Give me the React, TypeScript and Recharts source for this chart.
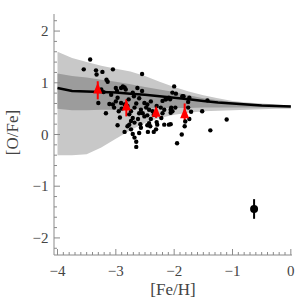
import { ComposedChart, Area, Line, Scatter, XAxis, YAxis, ErrorBar, Label } from "recharts"

// model bands, sampled on a [Fe/H] grid
const feGrid = [-4, -3.75, -3.5, -3.25, -3, -2.75, -2.5, -2.25, -2, -1.75, -1.5, -1.25, -1, -0.75, -0.5, -0.25, 0]
const lightHigh = [1.6, 1.48, 1.4, 1.33, 1.27, 1.22, 1.13, 1.02, 0.92, 0.83, 0.76, 0.7, 0.65, 0.62, 0.6, 0.58, 0.56]
const lightLow = [-0.4, -0.4, -0.38, -0.25, -0.08, 0.08, 0.22, 0.32, 0.38, 0.42, 0.45, 0.46, 0.47, 0.48, 0.49, 0.5, 0.5]
const darkHigh = [1.18, 1.13, 1.1, 1.06, 1.02, 0.97, 0.92, 0.87, 0.82, 0.76, 0.7, 0.66, 0.63, 0.6, 0.58, 0.57, 0.56]
const darkLow = [0.5, 0.47, 0.47, 0.48, 0.48, 0.49, 0.5, 0.51, 0.51, 0.51, 0.52, 0.52, 0.52, 0.52, 0.52, 0.52, 0.52]
const meanTrack = [0.9, 0.84, 0.83, 0.82, 0.81, 0.79, 0.77, 0.74, 0.71, 0.68, 0.65, 0.62, 0.6, 0.58, 0.56, 0.55, 0.54]

// observed stars
const starFeH = [
  -3.44, -3.55, -3.34, -3.33, -3.23, -3.05, -2.55, -3.16, -3.14, -3.3, -3.17, -3.25, -3.21, -3.0, -2.98, -2.91,
  -2.88, -2.85, -2.83, -2.97, -3.0, -3.05, -3.11, -3.08, -2.91, -2.71, -2.69, -2.63, -2.55, -2.51, -2.46, -2.4,
  -2.48, -2.43, -2.37, -2.57, -2.54, -2.51, -2.46, -2.6, -2.68, -2.74, -2.77, -2.71, -2.74, -2.68, -2.77, -2.74,
  -2.71, -2.68, -2.65, -2.65, -2.85, -2.8, -2.6, -2.57, -2.46, -2.43, -2.29, -2.31, -2.17, -2.06, -3.03, -2.85,
  -2.23, -2.17, -2.2, -2.14, -2.09, -2.03, -2.0, -2.06, -1.98, -1.86, -1.97, -1.84, -1.74, -1.76, -1.76, -1.71,
  -1.74, -2.07, -2.15, -2.2, -2.05, -2.03, -2.06, -2.09, -2.3, -2.41, -1.95, -1.87, -1.82, -1.81, -1.52, -1.43,
  -1.1, -1.38, -2.93, -2.97, -2.4, -2.35, -2.22, -2.3, -2.6, -2.65, -2.78, -2.8, -2.9, -2.95, -2.62, -2.58,
  -2.45, -2.35,
]
const starOFe = [
  1.45, 1.26, 1.24, 1.16, 1.21, 1.26, 1.17, 1.06, 1.02, 0.61, 0.41, 0.87, 0.82, 0.9, 0.84, 0.9,
  0.93, 0.91, 0.87, 0.71, 0.64, 0.58, 0.59, 0.77, 0.61, 0.81, 0.74, 0.9, 0.84, 0.61, 0.58, 0.64,
  0.52, 0.48, 0.45, 0.48, 0.41, 0.35, 0.37, 0.41, 0.52, 0.45, 0.39, 0.32, 0.26, 0.23, 0.19, 0.1,
  0.01, -0.06, -0.14, -0.24, 0.05, 0.16, 0.03, 0.13, 0.18, 0.22, 0.19, 0.1, 0.19, 0.2, 0.52, 0.58,
  0.52, 0.48, 0.41, 0.68, 0.71, 0.81, 0.93, 0.48, 0.52, 0.74, 0.79, 0.74, 0.71, 0.63, 0.52, 0.44,
  0.3, 0.68, 0.68, 0.65, 0.52, 0.45, 0.42, 0.19, 0.24, 0.16, -0.17, 0.0, 0.16, 0.25, 0.45, 0.66,
  0.29, 0.08, 0.33, 0.18, 0.3, 0.38, 0.32, 0.55, 0.7, 0.6, 0.68, 0.55, 0.5, 0.45, 0.3, 0.2,
  0.05, 0.05,
]

// red triangles with their error (below, above)
const triFeH = [-3.31, -2.82, -2.31, -1.82]
const triOFe = [0.87, 0.54, 0.42, 0.39]
const triErrLow = [0.19, 0.19, 0.1, 0.15]
const triErrHigh = [0.16, 0.14, 0.1, 0.21]

// typical error point
const errFeH = [-0.63]
const errOFe = [-1.44]
const errSize = [0.19]

const xMajor = [-4, -3, -2, -1, 0]
const xLabels = ["−4", "−3", "−2", "−1", "0"]
const yMajor = [-2, -1, 0, 1, 2]
const yLabels = ["−2", "−1", "0", "1", "2"]

const xTicks: number[] = []
for (let i = 0; i <= 40; i++) xTicks.push(Math.round((-4 + i * 0.1) * 10) / 10)
const yTicks: number[] = []
for (let i = 0; i <= 22; i++) yTicks.push(Math.round((-2.2 + i * 0.2) * 10) / 10)

const bandRows = feGrid.map((x, i) => ({
  x,
  light: [lightLow[i], lightHigh[i]],
  dark: [darkLow[i], darkHigh[i]],
  mean: meanTrack[i],
}))
const stars = starFeH.map((x, i) => ({ x, y: starOFe[i] }))
const triangles = triFeH.map((x, i) => ({ x, y: triOFe[i], err: [triErrLow[i], triErrHigh[i]] }))
const typical = errFeH.map((x, i) => ({ x, y: errOFe[i], err: errSize[i] }))

const frame = "#8a8a8a"
const ink = "#444"
const font = "Liberation Serif, serif"

const isMajor = (v: number) => Math.abs(v - Math.round(v)) < 1e-6
const labelFor = (v: number, majors: number[], labels: string[]) => {
  const i = majors.findIndex((m) => Math.abs(m - v) < 1e-6)
  return i >= 0 ? labels[i] : ""
}

function BottomTick({ x, y, payload }: any) {
  const major = isMajor(payload.value)
  return (
    <g>
      <line x1={x} x2={x} y1={y} y2={y - (major ? 6 : 3)} stroke={frame} />
      {major && (
        <text x={x} y={y + 21} textAnchor="middle" fontSize={15} fill={ink} fontFamily={font}>
          {labelFor(payload.value, xMajor, xLabels)}
        </text>
      )}
    </g>
  )
}

function TopTick({ x, y, payload }: any) {
  const major = isMajor(payload.value)
  return <line x1={x} x2={x} y1={y} y2={y + (major ? 6 : 3)} stroke={frame} />
}

function LeftTick({ x, y, payload }: any) {
  const major = isMajor(payload.value)
  return (
    <g>
      <line x1={x} x2={x + (major ? 6 : 3)} y1={y} y2={y} stroke={frame} />
      {major && (
        <text x={x - 5.5} y={y + 5} textAnchor="end" fontSize={15} fill={ink} fontFamily={font}>
          {labelFor(payload.value, yMajor, yLabels)}
        </text>
      )}
    </g>
  )
}

function RightTick({ x, y, payload }: any) {
  const major = isMajor(payload.value)
  return <line x1={x} x2={x - (major ? 6 : 3)} y1={y} y2={y} stroke={frame} />
}

function Dot({ cx, cy }: any) {
  return <circle cx={cx} cy={cy} r={2.2} fill="#000" />
}

function Triangle({ cx, cy }: any) {
  return <polygon points={`${cx},${cy - 7} ${cx - 4.5},${cy + 4} ${cx + 4.5},${cy + 4}`} fill="#ff0000" />
}

function BigDot({ cx, cy }: any) {
  return <circle cx={cx} cy={cy} r={4} fill="#000" />
}

export default function App() {
  return (
    <div style={{ position: "absolute", left: 0, top: 0, width: 300, height: 300, background: "#fff" }}>
      <ComposedChart width={300} height={300} data={bandRows} margin={{ top: 14, right: 8, bottom: 0, left: 0 }}>
        <XAxis
          dataKey="x"
          type="number"
          domain={[-4.06, 0.02]}
          ticks={xTicks}
          interval={0}
          tickSize={0}
          tickMargin={0}
          tickLine={false}
          tick={BottomTick}
          axisLine={{ stroke: frame }}
          height={45}
          allowDataOverflow
        >
          <Label
            content={({ viewBox }: any) => (
              <text x={viewBox.x + viewBox.width / 2} y={viewBox.y + 40} textAnchor="middle" fontSize={17} fill={ink} fontFamily={font}>
                [Fe/H]
              </text>
            )}
          />
        </XAxis>
        <XAxis
          xAxisId="top"
          orientation="top"
          type="number"
          domain={[-4.06, 0.02]}
          ticks={xTicks}
          interval={0}
          tickSize={0}
          tickMargin={0}
          tickLine={false}
          tick={TopTick}
          axisLine={{ stroke: frame }}
          height={0}
          allowDataOverflow
        />
        <YAxis
          type="number"
          domain={[-2.33, 2.33]}
          ticks={yTicks}
          interval={0}
          tickSize={0}
          tickMargin={0}
          tickLine={false}
          tick={LeftTick}
          axisLine={{ stroke: frame }}
          width={54}
          allowDataOverflow
        >
          <Label
            content={({ viewBox }: any) => {
              const cx = 18
              const cy = viewBox.y + viewBox.height / 2 - 2
              return (
                <text x={cx} y={cy} transform={`rotate(-90, ${cx}, ${cy})`} textAnchor="middle" fontSize={17} fill={ink} fontFamily={font}>
                  [O/Fe]
                </text>
              )
            }}
          />
        </YAxis>
        <YAxis
          yAxisId="right"
          orientation="right"
          type="number"
          domain={[-2.33, 2.33]}
          ticks={yTicks}
          interval={0}
          tickSize={0}
          tickMargin={0}
          tickLine={false}
          tick={RightTick}
          axisLine={{ stroke: frame }}
          width={0}
          allowDataOverflow
        />
        <Area dataKey="light" type="linear" fill="#c8c8c8" fillOpacity={1} stroke="none" isAnimationActive={false} />
        <Area dataKey="dark" type="linear" fill="#9c9c9c" fillOpacity={1} stroke="none" isAnimationActive={false} />
        <Line dataKey="mean" type="linear" stroke="#000" strokeWidth={2.5} dot={false} isAnimationActive={false} />
        <Scatter data={stars} dataKey="y" shape={Dot} isAnimationActive={false} />
        <Scatter data={triangles} dataKey="y" shape={Triangle} isAnimationActive={false}>
          <ErrorBar dataKey="err" direction="y" width={0} stroke="#ff0000" strokeWidth={2} />
        </Scatter>
        <Scatter data={typical} dataKey="y" shape={BigDot} isAnimationActive={false}>
          <ErrorBar dataKey="err" direction="y" width={0} stroke="#000" strokeWidth={2} />
        </Scatter>
      </ComposedChart>
    </div>
  )
}
